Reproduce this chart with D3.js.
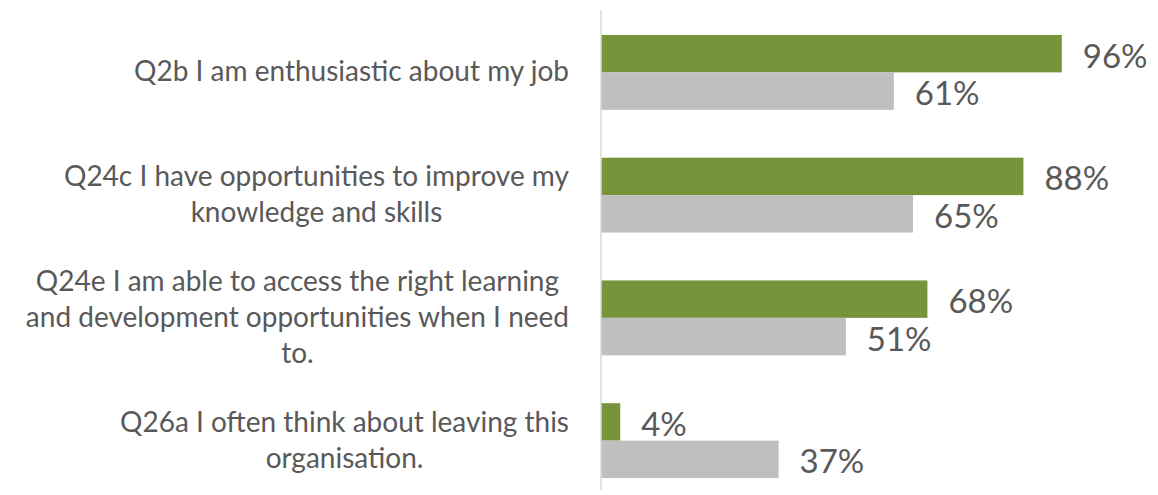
<!DOCTYPE html>
<html>
<head>
<meta charset="utf-8">
<script src="https://cdn.jsdelivr.net/npm/d3@7"></script>
<style>
  body { margin: 0; background: #fff; }
  svg { display: block; }
</style>
</head>
<body>
<div id="chart"></div>
<script>
const categories = ["Q2b", "Q24c", "Q24e", "Q26a"];
const labelLines = [
  ["Q2b I am enthusiastic about my job"],
  ["Q24c I have opportunities to improve my", "knowledge and skills"],
  ["Q24e I am able to access the right learning", "and development opportunities when I need", "to."],
  ["Q26a I often think about leaving this", "organisation."],
];
const seriesNames = ["This organisation", "Comparison"];
const greenValues = [96, 88, 68, 4];
const grayValues = [61, 65, 51, 37];

const width = 1158;
const height = 495;
const axisX = 601;

const svg = d3.select("#chart")
  .append("svg")
  .attr("width", width)
  .attr("height", height);

const x = d3.scaleLinear().domain([0, 100]).range([axisX, axisX + 480]);

const y = d3.scaleBand()
  .domain(categories)
  .range([11, 502])
  .paddingInner(0.39)
  .paddingOuter(0.195);

const sub = d3.scaleBand()
  .domain(seriesNames)
  .range([0, y.bandwidth()]);

const colors = { "This organisation": "#77933c", "Comparison": "#bfbfbf" };

const rows = categories.map((c, i) => ({
  cat: c,
  lines: labelLines[i],
  vals: [
    { series: seriesNames[0], v: greenValues[i] },
    { series: seriesNames[1], v: grayValues[i] },
  ],
}));

const group = svg.selectAll("g.cat")
  .data(rows)
  .join("g")
  .attr("class", "cat")
  .attr("transform", (d) => `translate(0,${y(d.cat)})`);

group.selectAll("rect")
  .data((d) => d.vals)
  .join("rect")
  .attr("x", x(0))
  .attr("y", (d) => sub(d.series))
  .attr("width", (d) => x(d.v) - x(0))
  .attr("height", sub.bandwidth())
  .attr("fill", (d) => colors[d.series]);

group.selectAll("text.val")
  .data((d) => d.vals)
  .join("text")
  .attr("class", "val")
  .attr("x", (d) => x(d.v) + 21)
  .attr("y", (d) => sub(d.series) + sub.bandwidth() / 2 + 1)
  .attr("dominant-baseline", "central")
  .attr("font-family", "Lato, 'Open Sans', sans-serif")
  .attr("font-size", 33)
  .attr("fill", "#595959")
  .text((d) => d.v + "%");

// axis line
svg.append("line")
  .attr("x1", axisX)
  .attr("x2", axisX)
  .attr("y1", 10)
  .attr("y2", 490)
  .attr("stroke", "#d9d9d9")
  .attr("stroke-width", 1.5);

// category labels: centered lines, block right aligned to labelRight
const labelRight = 569;
const lineHeight = 36;

const labels = svg.selectAll("g.label")
  .data(rows)
  .join("g")
  .attr("class", "label");

labels.each(function (d) {
  const g = d3.select(this);
  const cy = y(d.cat) + y.bandwidth() / 2 - 2;
  const n = d.lines.length;
  const texts = g.selectAll("text")
    .data(d.lines)
    .join("text")
    .attr("font-family", "Lato, 'Open Sans', sans-serif")
    .attr("font-size", 28)
    .attr("fill", "#595959")
    .attr("text-anchor", "middle")
    .attr("dominant-baseline", "central")
    .attr("y", (t, i) => cy + (i - (n - 1) / 2) * lineHeight)
    .text((t) => t);
  let maxW = 0;
  texts.each(function () {
    maxW = Math.max(maxW, this.getComputedTextLength());
  });
  texts.attr("x", labelRight - maxW / 2);
});
</script>
</body>
</html>
